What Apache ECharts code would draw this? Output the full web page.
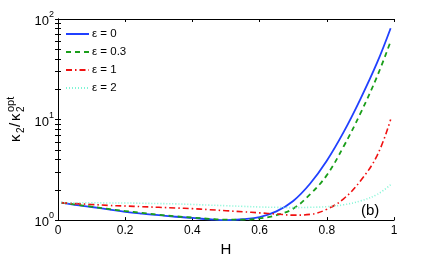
<!DOCTYPE html>
<html><head><meta charset="utf-8">
<script src="https://cdn.jsdelivr.net/npm/echarts@6/dist/echarts.min.js"></script>
<style>html,body{margin:0;padding:0;background:#fff}#c{width:436px;height:262px}</style>
</head><body><div id="c"></div>
<script>
var H = [0.01,0.05,0.1,0.15,0.2,0.25,0.3,0.35,0.4,0.45,0.5,0.55,0.6,0.65,0.7,0.75,0.8,0.85,0.9,0.95,0.99];
var eps0  = [1.49,1.42,1.35,1.28,1.21,1.16,1.12,1.08,1.05,1.02,1.0,1.02,1.07,1.22,1.55,2.3,3.9,7.5,16,37,81];
var eps03 = [1.49,1.43,1.36,1.29,1.23,1.18,1.13,1.09,1.06,1.03,1.01,1.01,1.04,1.12,1.3,1.8,2.8,5.4,11.5,27,60];
var eps1  = [1.49,1.46,1.43,1.40,1.38,1.36,1.34,1.32,1.30,1.27,1.24,1.21,1.18,1.15,1.12,1.14,1.28,1.63,2.45,4.4,10];
var eps2  = [1.49,1.49,1.49,1.48,1.48,1.47,1.46,1.45,1.43,1.41,1.39,1.37,1.35,1.34,1.33,1.34,1.36,1.42,1.55,1.8,2.25];
var seriesNames = ['ε = 0','ε = 0.3','ε = 1','ε = 2'];
var xTicks = [0,0.2,0.4,0.6,0.8,1];
var yMinor = [1,2,3,4,5,6,7,8,9,10,20,30,40,50,60,70,80,90,100];

function pairs(ys){ return H.map(function(h,i){ return [h, ys[i]]; }); }
var FONT = 'Liberation Sans, Arial, Helvetica, sans-serif';
var chart = echarts.init(document.getElementById('c'), null, {renderer:'canvas'});
var axisLine = {show:true, lineStyle:{color:'#000', width:1}};
var tick = {show:true, inside:true, length:3, lineStyle:{color:'#000'}};
var mk = function(name, data, color, type, width){
  return {name:name, type:'line', data:pairs(data), xAxisIndex:0, yAxisIndex:0,
    showSymbol:false, symbol:'none', smooth:0.4,
    lineStyle:{color:color, width:width, type:type}, itemStyle:{color:color}, z:3};
};
chart.setOption({
  animation:false,
  grid:{left:58, right:42, top:19, bottom:35, containLabel:false},
  legend:{show:true, orient:'vertical', left:60, top:23, itemWidth:23, itemHeight:12, itemGap:6,
    data:seriesNames, itemStyle:{opacity:0},
    textStyle:{fontFamily:FONT, fontSize:11.5, color:'#000', padding:[0,0,0,-2]}},
  xAxis:[
    {type:'value', min:0, max:1, interval:0.2, position:'bottom',
      axisLine:axisLine, axisTick:tick, splitLine:{show:false},
      axisLabel:{show:true, margin:5, fontFamily:FONT, fontSize:12, color:'#000',
        formatter:function(v){ return String(Math.round(v*10)/10); }},
      name:'H', nameLocation:'middle', nameGap:19,
      nameTextStyle:{fontFamily:FONT, fontSize:15, color:'#000'}},
    {type:'value', min:0, max:1, interval:0.2, position:'top',
      axisLine:axisLine, axisTick:tick, splitLine:{show:false}, axisLabel:{show:false}}
  ],
  yAxis:[
    {type:'log', logBase:10, min:1, max:100, position:'left',
      axisLine:axisLine, axisTick:Object.assign({}, tick, {customValues:yMinor}), splitLine:{show:false},
      minorTick:{show:false},
      axisLabel:{show:true, margin:4, color:'#000',
        formatter:function(v){ var e = Math.round(Math.log(v)/Math.LN10); return '{b|10}{s|'+e+'}'; },
        rich:{b:{fontFamily:FONT, fontSize:13, color:'#000', lineHeight:18, verticalAlign:'bottom'},
              s:{fontFamily:FONT, fontSize:9, color:'#000', lineHeight:18, verticalAlign:'top'}}}},
    {type:'log', logBase:10, min:1, max:100, position:'right',
      axisLine:axisLine, axisTick:Object.assign({}, tick, {customValues:yMinor}), splitLine:{show:false},
      axisLabel:{show:false}}
  ],
  series:[
    mk(seriesNames[0], eps0, '#2040ff', 'solid', 1.8),
    mk(seriesNames[1], eps03, '#1a9e1a', [5,4], 1.8),
    mk(seriesNames[2], eps1, '#f01010', [6,3,1.5,3], 1.6),
    mk(seriesNames[3], eps2, '#80f5d5', [1,2], 1.6)
  ],
  graphic:[
    {type:'text', left:361, top:203, style:{text:'(b)', font:'15px '+FONT, fill:'#000'}},
    {type:'group', x:16, y:142, rotation:Math.PI/2, children:[
      {type:'text', x:0, y:0, style:{text:'κ', font:'15px '+FONT, fill:'#000', textAlign:'left', textVerticalAlign:'middle'}},
      {type:'text', x:9, y:5, style:{text:'2', font:'10px '+FONT, fill:'#000', textAlign:'left', textVerticalAlign:'middle'}},
      {type:'text', x:15, y:0, style:{text:'/', font:'15px '+FONT, fill:'#000', textAlign:'left', textVerticalAlign:'middle'}},
      {type:'text', x:21, y:0, style:{text:'κ', font:'15px '+FONT, fill:'#000', textAlign:'left', textVerticalAlign:'middle'}},
      {type:'text', x:30, y:5, style:{text:'2', font:'10px '+FONT, fill:'#000', textAlign:'left', textVerticalAlign:'middle'}},
      {type:'text', x:30, y:-5, style:{text:'opt', font:'11px '+FONT, fill:'#000', textAlign:'left', textVerticalAlign:'middle'}}
    ]}
  ]
});
</script></body></html>
